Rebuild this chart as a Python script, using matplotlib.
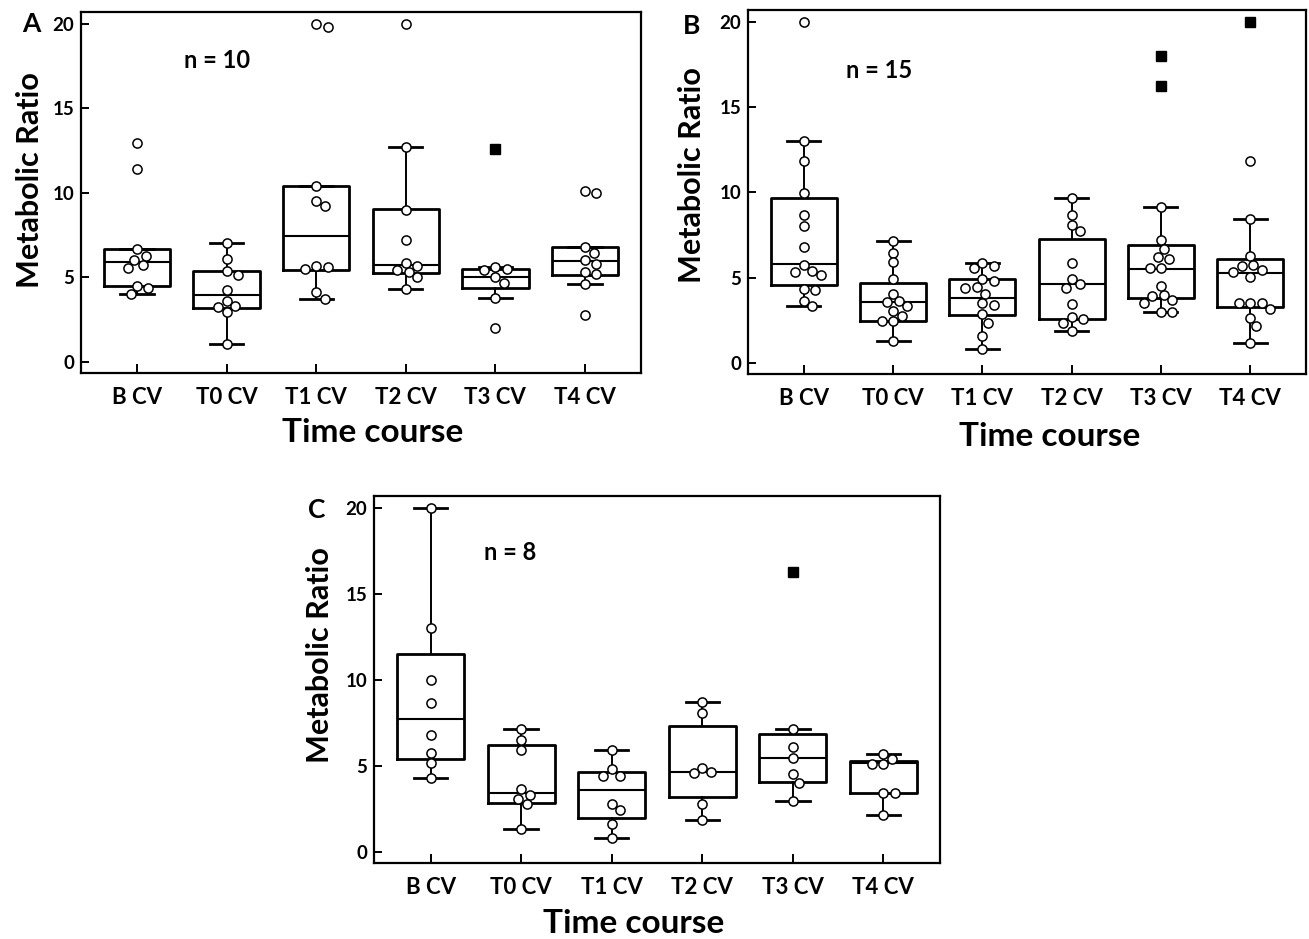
import numpy as np
import matplotlib
matplotlib.use('Agg')
import matplotlib.pyplot as plt

plt.rcParams['font.family'] = ['Lato', 'DejaVu Sans']
plt.rcParams['font.weight'] = 'bold'

# Categories shared by all panels
categories = ['B CV', 'T0 CV', 'T1 CV', 'T2 CV', 'T3 CV', 'T4 CV']

# Panel A (n = 10): box stats, individual points, filled squares
a_q1 = [4.49, 3.18, 5.45, 5.26, 4.39, 5.16]
a_med = [5.91, 3.93, 7.45, 5.75, 5.02, 5.97]
a_q3 = [6.70, 5.40, 10.40, 9.03, 5.51, 6.80]
a_lo = [3.99, 1.03, 3.72, 4.31, 3.77, 4.62]
a_hi = [6.70, 7.06, 10.40, 12.73, 5.60, 6.80]
a_pts = [
    [12.96, 11.42, 6.66, 6.25, 6.05, 5.71, 5.53, 4.51, 4.39, 3.99],
    [7.06, 6.09, 5.38, 5.16, 4.23, 3.60, 3.30, 3.24, 2.96, 1.03],
    [20.0, 19.8, 10.42, 9.53, 9.23, 5.65, 5.61, 5.51, 4.13, 3.72],
    [20.0, 12.73, 9.01, 7.19, 5.87, 5.65, 5.45, 5.32, 5.02, 4.31],
    [5.63, 5.51, 5.45, 5.02, 4.66, 3.77, 2.00],
    [10.1, 10.0, 6.80, 6.44, 6.05, 5.81, 5.32, 5.18, 4.62, 2.79],
]
a_sq = [[], [], [], [], [12.59], []]

# Panel B (n = 15)
b_q1 = [4.56, 2.47, 2.80, 2.56, 3.78, 3.29]
b_med = [5.77, 3.58, 3.82, 4.62, 5.50, 5.24]
b_q3 = [9.65, 4.70, 4.93, 7.24, 6.91, 6.07]
b_lo = [3.35, 1.27, 0.80, 1.86, 2.95, 1.17]
b_hi = [13.0, 7.14, 5.87, 9.65, 9.12, 8.45]
b_pts = [
    [20.0, 13.0, 11.86, 9.98, 8.67, 8.02, 6.77, 5.73, 5.40, 5.34, 5.15, 4.31, 4.25, 3.62, 3.35],
    [7.14, 6.46, 5.89, 4.93, 4.05, 3.60, 3.58, 3.33, 3.03, 2.74, 2.45, 2.45, 1.27],
    [5.87, 5.68, 5.58, 4.93, 4.81, 4.44, 4.40, 4.03, 3.48, 3.37, 2.86, 2.35, 1.57, 0.80],
    [9.65, 8.67, 8.08, 7.75, 5.87, 4.89, 4.62, 4.36, 3.44, 2.70, 2.54, 2.31, 1.86],
    [9.12, 7.20, 6.65, 6.18, 6.07, 5.54, 5.54, 4.50, 3.95, 3.91, 3.68, 3.52, 2.99, 2.99],
    [11.86, 8.45, 6.26, 5.72, 5.68, 5.45, 5.34, 5.05, 3.52, 3.52, 3.48, 3.13, 2.64, 2.13, 1.17],
]
b_sq = [[], [], [], [], [18.02, 16.24], [20.0]]

# Panel C (n = 8)
c_q1 = [5.41, 2.86, 1.93, 3.20, 4.05, 3.44]
c_med = [7.72, 3.44, 3.59, 4.63, 5.46, 5.14]
c_q3 = [11.49, 6.18, 4.63, 7.30, 6.87, 5.27]
c_lo = [4.27, 1.31, 0.79, 1.85, 2.95, 2.14]
c_hi = [20.0, 7.14, 5.89, 8.71, 7.14, 5.71]
c_pts = [
    [20.0, 12.99, 9.98, 8.65, 6.81, 5.75, 5.17, 4.27],
    [7.14, 6.49, 5.89, 3.63, 3.30, 3.09, 2.76, 1.31],
    [5.89, 4.83, 4.42, 4.40, 2.80, 2.41, 1.60, 0.79],
    [8.71, 8.07, 4.88, 4.63, 4.59, 2.76, 1.85],
    [7.14, 6.08, 5.46, 4.50, 4.02, 2.95],
    [5.71, 5.37, 5.12, 5.12, 3.44, 3.44, 2.14],
]
c_sq = [[], [], [], [], [16.27], []]

W, H = 1309, 939
fig = plt.figure(figsize=(W / 100, H / 100), dpi=100)


def px_rect(l, t, r, b):
    return [l / W, 1 - b / H, (r - l) / W, (b - t) / H]


def swarm_x(ax, pos, vals, diam=9.5):
    # simple beeswarm in pixel space so circles don't overlap
    pts = ax.transData.transform(np.column_stack([np.full(len(vals), pos), vals]))
    x_per_px = 1.0 / (ax.transData.transform([(1, 0)])[0, 0] - ax.transData.transform([(0, 0)])[0, 0])
    ys = pts[:, 1]
    step = diam * 0.3
    cands = [0.0]
    for k in range(1, 30):
        cands += [k * step, -k * step]
    placed = []
    offs = np.zeros(len(vals))
    for i in np.argsort(-ys):
        for c in cands:
            if all((c - px) ** 2 + (py - ys[i]) ** 2 >= diam ** 2 for px, py in placed):
                break
        placed.append((c, ys[i]))
        offs[i] = c
    return pos + offs * x_per_px


def draw_panel(rect, q1, med, q3, lo, hi, pts, sq, letter, n_text, n_xy, ylab_xy, xlab_xy, letter_xy):
    ax = fig.add_axes(rect)
    ax.set_xlim(-0.625, 5.625)
    ax.set_ylim(-0.66, 20.7)
    stats = []
    for i in range(len(categories)):
        stats.append({'q1': q1[i], 'med': med[i], 'q3': q3[i],
                      'whislo': lo[i], 'whishi': hi[i], 'fliers': []})
    ax.bxp(stats, positions=range(len(categories)), widths=0.74, capwidths=0.37,
           showfliers=False, patch_artist=False,
           boxprops=dict(color='black', linewidth=2.0),
           whiskerprops=dict(color='black', linewidth=1.4),
           capprops=dict(color='black', linewidth=2.0),
           medianprops=dict(color='black', linewidth=1.5))
    for i, vals in enumerate(pts):
        xs = swarm_x(ax, i, vals)
        ax.plot(xs, vals, 'o', ms=6.6, mfc='white', mec='black', mew=1.1, zorder=4)
    for i, vals in enumerate(sq):
        if vals:
            ax.plot([i] * len(vals), vals, 's', ms=6.5, color='black', zorder=4)
    ax.set_xticks(range(len(categories)))
    ax.set_xticklabels(categories, fontsize=16, fontweight='bold')
    ax.set_yticks([0, 5, 10, 15, 20])
    ax.set_yticklabels(['0', '5', '10', '15', '20'], fontsize=13.5, fontweight='bold')
    ax.tick_params(axis='x', direction='in', length=6.5, width=1.4, pad=10)
    ax.tick_params(axis='y', direction='in', length=6, width=1.4, pad=5)
    for s in ax.spines.values():
        s.set_linewidth(1.6)
    ax.text(n_xy[0], n_xy[1], n_text, transform=ax.transAxes, fontsize=17,
            fontweight='bold', ha='center', va='center')
    ax.text(ylab_xy[0], ylab_xy[1], 'Metabolic Ratio', transform=ax.transAxes,
            rotation=90, fontsize=22, fontweight='bold', ha='center', va='center')
    ax.text(xlab_xy[0], xlab_xy[1], 'Time course', transform=ax.transAxes,
            fontsize=24, fontweight='bold', ha='center', va='center')
    fig.text(letter_xy[0] / W, 1 - letter_xy[1] / H, letter, fontsize=19,
             fontweight='bold', ha='center', va='center')
    return ax


draw_panel(px_rect(81, 12, 641, 373), a_q1, a_med, a_q3, a_lo, a_hi, a_pts, a_sq,
           'A', 'n = 10', (0.243, 0.866), (-0.091, 0.534), (0.52, -0.165), (31, 24))
draw_panel(px_rect(748, 10, 1306, 374), b_q1, b_med, b_q3, b_lo, b_hi, b_pts, b_sq,
           'B', 'n = 15', (0.235, 0.835), (-0.101, 0.547), (0.54, -0.172), (692, 26))
draw_panel(px_rect(374, 496, 940, 863), c_q1, c_med, c_q3, c_lo, c_hi, c_pts, c_sq,
           'C', 'n = 8', (0.24, 0.845), (-0.095, 0.567), (0.458, -0.165), (317, 510))

fig.savefig('out.png', dpi=100)
